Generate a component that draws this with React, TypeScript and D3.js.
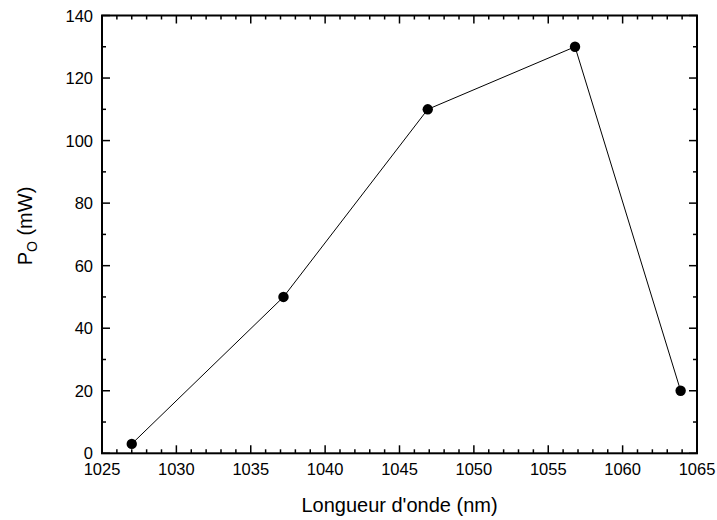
import React from "react";
import * as d3 from "d3";

const wavelengths = [1027, 1037.2, 1046.9, 1056.8, 1063.9];
const powers = [3, 50, 110, 130, 20];
const xTicks = [1025, 1030, 1035, 1040, 1045, 1050, 1055, 1060, 1065];
const yTicks = [0, 20, 40, 60, 80, 100, 120, 140];

const W = 717, H = 520;
const L = 102, R = 697, T = 15.5, B = 453.3;

export default function App() {
  const x = d3.scaleLinear().domain([1025, 1065]).range([L, R]);
  const y = d3.scaleLinear().domain([0, 140]).range([B, T]);
  const xMinor = d3.range(1025, 1066, 1);
  const yMinor = d3.range(0, 141, 10);
  const line = d3.line<number>().x((_, i) => x(wavelengths[i])).y((d) => y(d));
  const font = "Arial, 'Liberation Sans', sans-serif";
  return (
    <svg width={W} height={H} style={{ position: "absolute", left: 0, top: 0, background: "#fff" }} fontFamily={font}>
      <rect x={0} y={0} width={W} height={H} fill="#fff" />
      <g stroke="#000" strokeWidth={1.5}>
        {xMinor.map((v) => {
          const len = v % 5 === 0 ? 8 : 4;
          return (
            <g key={"x" + v}>
              <line x1={x(v)} x2={x(v)} y1={B} y2={B - len} />
              <line x1={x(v)} x2={x(v)} y1={T} y2={T + len} />
            </g>
          );
        })}
        {yMinor.map((v) => {
          const len = v % 20 === 0 ? 8 : 4;
          return (
            <g key={"y" + v}>
              <line x1={L} x2={L + len} y1={y(v)} y2={y(v)} />
              <line x1={R} x2={R - len} y1={y(v)} y2={y(v)} />
            </g>
          );
        })}
      </g>
      <rect x={L} y={T} width={R - L} height={B - T} fill="none" stroke="#000" strokeWidth={2} />
      <g fontSize={16.5} fill="#000">
        {xTicks.map((v) => (
          <text key={"xl" + v} x={x(v)} y={B + 22} textAnchor="middle">{v}</text>
        ))}
        {yTicks.map((v) => (
          <text key={"yl" + v} x={L - 9} y={y(v) + 6} textAnchor="end">{v}</text>
        ))}
      </g>
      <path d={line(powers) || ""} fill="none" stroke="#000" strokeWidth={1} />
      {powers.map((p, i) => (
        <circle key={"p" + i} cx={x(wavelengths[i])} cy={y(p)} r={5.2} fill="#000" />
      ))}
      <text x={(L + R) / 2} y={512} textAnchor="middle" fontSize={20}>Longueur d'onde (nm)</text>
      <text transform="translate(32,226) rotate(-90)" textAnchor="middle" fontSize={20}>
        P<tspan fontSize={14} dy={5}>O</tspan><tspan dy={-5}> (mW)</tspan>
      </text>
    </svg>
  );
}
